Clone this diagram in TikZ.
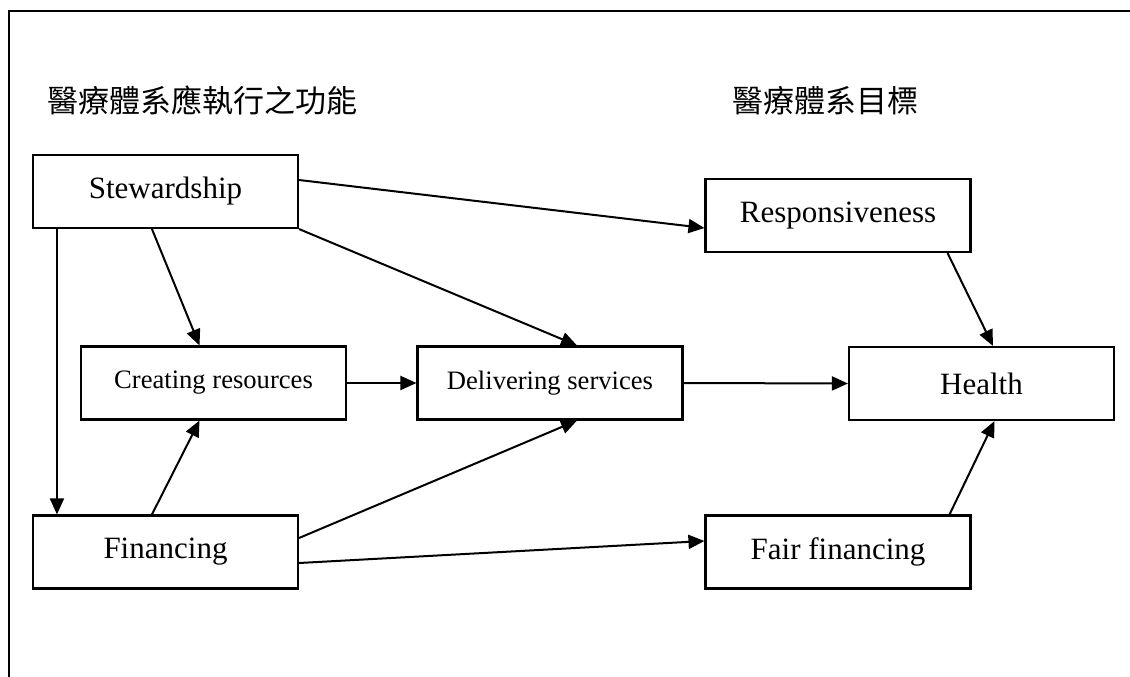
\documentclass[tikz,border=0pt]{standalone}
\usepackage{fontspec}
\setmainfont{Liberation Serif}
\newfontfamily\cjk{Noto Sans CJK TC}
\usetikzlibrary{arrows.meta}

\begin{document}
\begin{tikzpicture}[x=1pt, y=-1pt,
    funcbox/.style={draw, line width=2.1pt, minimum width=265pt, minimum height=73pt, inner sep=0pt, font=\fontsize{31}{37}\selectfont},
    smallbox/.style={funcbox, font=\fontsize{26.6}{32}\selectfont},
    flow/.style={line width=2pt, -{Triangle[length=16pt, width=14pt]}}]

\draw [draw=none, use as bounding box] (0, 0) rectangle (1130, 677);

% open frame
\draw [line width=1.8pt] (9, 677) -- (9, 11) -- (1130, 11);

\node [font=\cjk\fontsize{31}{37}\selectfont] (functitle) at (202.5, 101) {醫療體系應執行之功能};
\node [font=\cjk\fontsize{31}{37}\selectfont] (goaltitle) at (825.5, 101) {醫療體系目標};

\node [funcbox] (stew) at (165.5, 191.5) {Stewardship};
\node [smallbox] (create) at (213.5, 383) {Creating resources};
\node [smallbox] (deliver) at (550, 383) {Delivering services};
\node [funcbox] (fin) at (165.5, 552) {Financing};

\node [funcbox] (resp) at (838, 215.5) {Responsiveness};
\node [funcbox] (health) at (981.5, 383.5) {Health};
\node [funcbox] (fair) at (838, 552) {Fair financing};

\draw [flow] ([xshift=25pt]stew.south west) -- ([xshift=25pt]fin.north west);
\draw [flow] ([xshift=120pt]stew.south west) -- ([xshift=-14pt]create.north);
\draw [flow] (stew.south east) -- ([xshift=27pt]deliver.north);
\draw [flow] ([yshift=11.5pt]stew.east) -- ([yshift=-12.5pt]resp.west);

\draw [flow] (create.east) -- (deliver.west);
\draw [flow] (deliver.east) -- (health.west);
\draw [flow] ([xshift=-24pt]resp.south east) -- ([xshift=11.5pt]health.north);

\draw [flow] ([xshift=120pt]fin.north west) -- ([xshift=-14pt]create.south);
\draw [flow] ([yshift=14pt]fin.east) -- ([xshift=27pt]deliver.south);
\draw [flow] ([yshift=-11pt]fin.east) -- ([yshift=11pt]fair.west);
\draw [flow] ([xshift=-22pt]fair.north east) -- ([xshift=13pt]health.south);
\end{tikzpicture}
\end{document}
